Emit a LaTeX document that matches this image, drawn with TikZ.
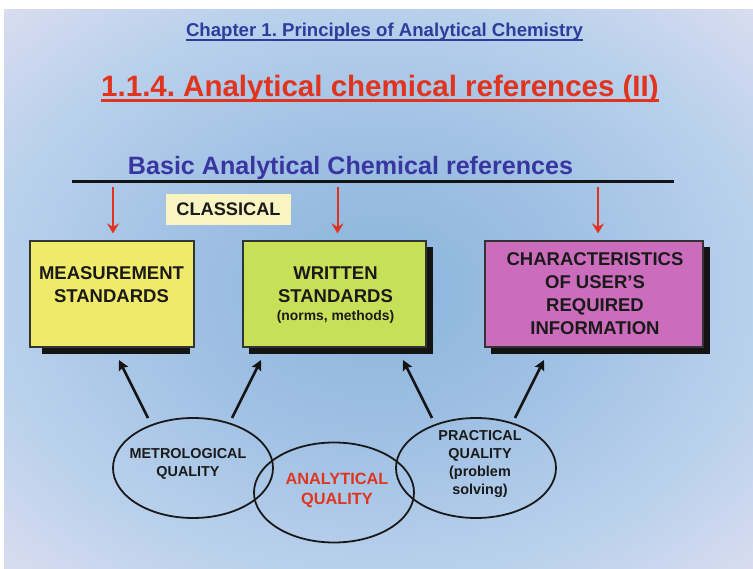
\documentclass[tikz,border=0pt]{standalone}
\usepackage{fontspec}
\setmainfont{Liberation Sans}
\usetikzlibrary{shapes.geometric,arrows.meta}
\definecolor{bgA}{HTML}{8CB4DC}
\definecolor{bgB}{HTML}{9DBFE3}
\definecolor{bgC}{HTML}{BAD1EC}
\definecolor{bgD}{HTML}{DEDEF1}
\definecolor{bgE}{HTML}{F7E5F5}
\definecolor{chapblue}{HTML}{2E3D9C}
\definecolor{titlered}{HTML}{E0341F}
\definecolor{basicblue}{HTML}{3A36A0}
\definecolor{boxyellow}{HTML}{F0EA6A}
\definecolor{boxgreen}{HTML}{C8E058}
\definecolor{boxmag}{HTML}{CC6CBC}
\definecolor{classfill}{HTML}{F8F5C2}
\definecolor{arrred}{HTML}{E0321E}
\definecolor{txt}{HTML}{1A1A1A}
\pgfdeclareradialshading{bgshade}{\pgfpoint{0bp}{0bp}}{color(0bp)=(bgA); color(12bp)=(bgB); color(26bp)=(bgC); color(37bp)=(bgD); color(46bp)=(bgE); color(71bp)=(bgE)}
\newcommand\myfs[2]{\fontsize{#1}{#2}\selectfont\bfseries}
\frenchspacing
\begin{document}
\begin{tikzpicture}[x=1pt,y=-1pt,
  stdbox/.style={draw=black!80,line width=1.2pt,inner sep=0pt},
  shadowbox/.style={fill=black!92},
  boxtext/.style={inner sep=0pt,align=center,text=txt,font=\myfs{18.5}{23}},
  elltext/.style={inner sep=0pt,align=center,text=txt,font=\myfs{14.4}{18}},
  qual/.style={ellipse,draw=black!90,line width=1.8pt,minimum width=160pt,minimum height=100pt,inner sep=0pt},
  redarr/.style={draw=arrred,line width=2pt,-{Stealth[length=10pt,width=12pt,inset=3.5pt]}},
  blkarr/.style={draw=black!92,line width=2.6pt,-{Stealth[length=10pt,width=10pt,inset=1.5pt]}}]
\useasboundingbox (0,0) rectangle (753,569);
\fill[white] (0,0) rectangle (753,569);
\shade[shading=bgshade] (4,10) rectangle (753,569);

% titles
\node[anchor=base,inner sep=0pt,text=chapblue,font=\myfs{18.6}{22}] (chap) at (384.5,37) {Chapter 1. Principles of Analytical Chemistry};
\draw[chapblue,line width=1.8pt] ([yshift=-3.2pt]chap.base west) -- ([yshift=-3.2pt]chap.base east);
\node[anchor=base,inner sep=0pt,text=titlered,font=\myfs{29.5}{34}] (ttl) at (380,97) {1.1.4. Analytical chemical references (II)};
\draw[titlered,line width=3pt] ([yshift=-3.8pt]ttl.base west) -- ([yshift=-3.8pt]ttl.base east);
\node[anchor=base,inner sep=0pt,text=basicblue,font=\myfs{25.1}{29}] (basic) at (350.5,175) {Basic Analytical Chemical references};

% main line
\coordinate (L1) at (72,182);
\coordinate (L2) at (674,182);
\draw[black!92,line width=3pt] (L1) -- (L2);

% classical
\node[fill=classfill,minimum width=125pt,minimum height=31pt,inner sep=0pt,text=txt,font=\myfs{18.2}{22}] (cls) at (228.5,209.5) {CLASSICAL};

% shadows
\fill[shadowbox] (42,250) rectangle (190,354);
\fill[shadowbox] (249,247) rectangle (433,354);
\fill[shadowbox] (491,247) rectangle (710,354);

% boxes
\node[stdbox,fill=boxyellow,minimum width=164pt,minimum height=106pt] (b1) at (112,294) {};
\node[stdbox,fill=boxgreen,minimum width=183pt,minimum height=106pt] (b2) at (334.5,294) {};
\node[stdbox,fill=boxmag,minimum width=218pt,minimum height=106pt] (b3) at (594,294) {};

\node[boxtext] (b1t) at (111.5,285) {MEASUREMENT\\STANDARDS};
\node[boxtext] (b2t) at (335.5,285) {WRITTEN\\STANDARDS};
\node[inner sep=0pt,text=txt,font=\myfs{13.9}{16}] (b2n) at (335.5,317) {(norms, methods)};
\node[boxtext] (b3t) at (595,293.5) {CHARACTERISTICS\\OF USER'S\\REQUIRED\\INFORMATION};

% red arrows
\coordinate (r1s) at (113,187);
\coordinate (r2s) at (337.5,187);
\coordinate (r3s) at (598,187);
\draw[redarr] (r1s) -- ([yshift=7pt]r1s |- b1.north);
\draw[redarr] (r2s) -- ([yshift=7pt]r2s |- b2.north);
\draw[redarr] (r3s) -- ([yshift=7pt]r3s |- b3.north);

% ellipses
\node[qual] (e1) at (193,468) {};
\node[qual] (e2) at (334,492.5) {};
\node[qual] (e3) at (476,468) {};
\node[elltext] (e1t) at (188,464) {METROLOGICAL\\QUALITY};
\node[inner sep=0pt,align=center,text=titlered,font=\myfs{16.3}{20}] (e2t) at (337,490) {ANALYTICAL\\QUALITY};
\node[elltext] (e3t) at (480,464) {PRACTICAL\\QUALITY\\(problem\\solving)};

% black arrows
\coordinate (s1) at (148,418); \coordinate (t1) at (119,360);
\coordinate (s2) at (232,418); \coordinate (t2) at (261,360);
\coordinate (s3) at (432,418); \coordinate (t3) at (403,360);
\coordinate (s4) at (515,418); \coordinate (t4) at (544,360);
\draw[blkarr] (s1) -- (t1);
\draw[blkarr] (s2) -- (t2);
\draw[blkarr] (s3) -- (t3);
\draw[blkarr] (s4) -- (t4);
\end{tikzpicture}
\end{document}
